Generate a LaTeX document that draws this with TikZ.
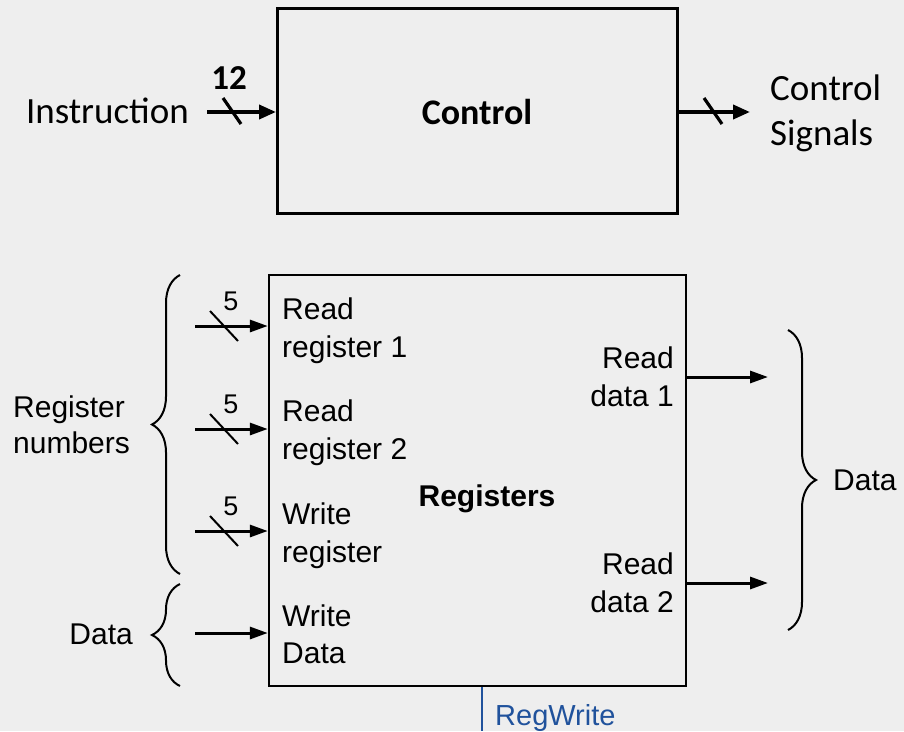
\documentclass[tikz,border=0pt]{standalone}
\usepackage{fontspec}
\setmainfont{Liberation Sans}
\newfontfamily\calfont{Carlito}
\usetikzlibrary{arrows.meta,decorations.pathreplacing}

\definecolor{bgpaper}{RGB}{238,238,238}
\definecolor{ctlblue}{RGB}{32,82,156}

\tikzset{
  x=1pt, y=-1pt,
  blockbox/.style={draw=black, rectangle, inner sep=0pt},
  toparrow/.style={line width=3.8pt, -{Triangle[length=17pt,width=14pt]}},
  regarrow/.style={line width=3pt, -{Triangle[length=18pt,width=12pt]}},
  topslash/.style={line width=3.2pt},
  regslash/.style={line width=2pt},
  toplabel/.style={inner sep=0pt, font=\calfont\fontsize{37}{45}\selectfont},
  reglabel/.style={inner sep=0pt, align=left, font=\fontsize{30}{38}\selectfont},
  bitlabel/.style={inner sep=0pt, font=\fontsize{27}{30}\selectfont},
  bracket/.style={decorate, line width=2pt, decoration={brace, amplitude=28pt}},
}

\begin{document}
\begin{tikzpicture}
  \fill[bgpaper] (0,0) rectangle (904,731);
  \useasboundingbox (0,0) rectangle (904,731);

  % ---------- control unit ----------
  \node[blockbox, line width=3pt, minimum width=400pt, minimum height=205pt] (ctrl) at (477.5,110.5) {};
  \node[toplabel, font=\calfont\bfseries\fontsize{36}{45}\selectfont] (ctrltxt) at (477,112) {Control};

  \coordinate (insrc) at (207,112);
  \draw[toparrow] (insrc) -- (insrc -| ctrl.west);
  \node[toplabel, anchor=base east] (instr) at (189,123) {Instruction};
  \coordinate (inslash) at (232,111);
  \draw[topslash] ([shift={(-9,-13)}]inslash) -- ([shift={(9,13)}]inslash);
  \node[toplabel, font=\calfont\bfseries\fontsize{35}{40}\selectfont, anchor=base] (twelve) at (229,89) {12};

  \coordinate (ctlout) at (ctrl.east |- 0,112);
  \coordinate (ctlend) at (750,112);
  \draw[toparrow] (ctlout) -- (ctlend);
  \coordinate (outslash) at (713,111);
  \draw[topslash] ([shift={(-9,-13)}]outslash) -- ([shift={(9,13)}]outslash);
  \node[toplabel, anchor=base west] (sig1) at (770,100) {Control};
  \node[toplabel, anchor=base west] (sig2) at (770,145) {Signals};

  % ---------- register file ----------
  \node[blockbox, line width=2.4pt, minimum width=417pt, minimum height=411pt] (regs) at (477.5,480.5) {};
  \node[inner sep=0pt, font=\bfseries\fontsize{30}{38}\selectfont, anchor=base] (regstxt) at (487,506) {Registers};

  % port labels, left side
  \node[reglabel, anchor=base west] (rr1a) at (282,319) {Read};
  \node[reglabel, anchor=base west] (rr1b) at (282,357) {register 1};
  \node[reglabel, anchor=base west] (rr2a) at (282,421) {Read};
  \node[reglabel, anchor=base west] (rr2b) at (282,459) {register 2};
  \node[reglabel, anchor=base west] (wra) at (282,524) {Write};
  \node[reglabel, anchor=base west] (wrb) at (282,562) {register};
  \node[reglabel, anchor=base west] (wda) at (282,626) {Write};
  \node[reglabel, anchor=base west] (wdb) at (282,663) {Data};

  % port labels, right side
  \node[reglabel, anchor=base east] (rd1a) at (674,368) {Read};
  \node[reglabel, anchor=base east] (rd1b) at (674,406) {data 1};
  \node[reglabel, anchor=base east] (rd2a) at (674,574) {Read};
  \node[reglabel, anchor=base east] (rd2b) at (674,612) {data 2};

  % inputs
  \foreach \n/\yy/\bus in {a/326/1, b/429/1, c/531/1, d/633/0} {
    \coordinate (src\n) at (195,\yy);
    \draw[regarrow] (src\n) -- (src\n -| regs.west);
    \ifnum\bus=1
      \coordinate (sl\n) at (224,\yy);
      \draw[regslash] ([shift={(-14,-15)}]sl\n) -- ([shift={(14,15)}]sl\n);
      \node[bitlabel, anchor=base] (bits\n) at (231,\yy-16) {5};
    \fi
  }

  % outputs
  \foreach \n/\yy in {a/377, b/583} {
    \coordinate (dst\n) at (768,\yy);
    \draw[regarrow] (dst\n -| regs.east) -- (dst\n);
  }

  % braces and group labels
  \coordinate (lbtop) at (180,275);
  \coordinate (lbbot) at (180,574);
  \draw[bracket] (lbbot) -- (lbtop);
  \node[reglabel, anchor=base west] (rn1) at (13,417) {Register};
  \node[reglabel, anchor=base west] (rn2) at (13,453) {numbers};

  \coordinate (ldtop) at (180,584);
  \coordinate (ldbot) at (180,686);
  \draw[bracket] (ldbot) -- (ldtop);
  \node[reglabel, anchor=base east] (dleft) at (133,644) {Data};

  \coordinate (rbtop) at (788,330);
  \coordinate (rbbot) at (788,630);
  \draw[bracket] (rbtop) -- (rbbot);
  \node[reglabel, anchor=base west] (dright) at (833,490) {Data};

  % write enable
  \coordinate (rwend) at (482,731);
  \draw[ctlblue, line width=1.8pt] (regs.south -| rwend) -- (rwend);
  \node[inner sep=0pt, anchor=base west, text=ctlblue, font=\fontsize{29}{34}\selectfont] (rw) at (495,725) {RegWrite};
\end{tikzpicture}
\end{document}
